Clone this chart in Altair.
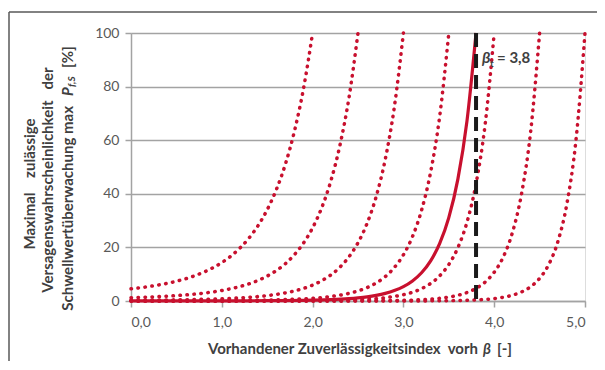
import altair as alt
import pandas as pd

# ---- data (beta -> max P_f,S in %) ----
B_20 = [0.0, 0.1, 0.2, 0.3, 0.4, 0.5, 0.6, 0.7, 0.8, 0.9, 1.0, 1.1, 1.2, 1.3, 1.4, 1.5, 1.6, 1.7, 1.8, 1.9, 2.0]
P_20 = [4.55, 4.94, 5.41, 5.95, 6.60, 7.37, 8.29, 9.40, 10.74, 12.36, 14.34, 16.76, 19.77, 23.50, 28.16, 34.06, 41.51, 51.01, 63.37, 79.27, 100.0]

B_25 = [0.0, 0.1, 0.2, 0.3, 0.4, 0.5, 0.6, 0.7, 0.8, 0.9, 1.0, 1.1, 1.2, 1.3, 1.4, 1.5, 1.6, 1.7, 1.8, 1.9, 2.0, 2.1, 2.2, 2.3, 2.4, 2.5]
P_25 = [1.24, 1.35, 1.48, 1.63, 1.80, 2.01, 2.26, 2.57, 2.93, 3.37, 3.91, 4.58, 5.40, 6.42, 7.69, 9.30, 11.33, 13.92, 17.30, 21.64, 27.30, 34.77, 44.68, 57.93, 75.73, 100.0]

B_30 = [0.0, 0.5, 1.0, 1.2, 1.4, 1.5, 1.6, 1.7, 1.8, 1.9, 2.0, 2.1, 2.2, 2.3, 2.4, 2.5, 2.6, 2.7, 2.8, 2.9, 3.0]
P_30 = [0.27, 0.44, 0.85, 1.17, 1.67, 2.02, 2.46, 3.03, 3.76, 4.70, 5.93, 7.56, 9.71, 12.59, 16.46, 21.74, 28.96, 38.94, 52.83, 72.34, 100.0]

B_35 = [0.0, 1.0, 1.5, 1.8, 2.0, 2.2, 2.4, 2.5, 2.6, 2.7, 2.8, 2.9, 3.0, 3.1, 3.2, 3.3, 3.4, 3.5]
P_35 = [0.05, 0.15, 0.35, 0.65, 1.02, 1.67, 2.84, 3.75, 4.99, 6.71, 9.10, 12.47, 17.23, 24.04, 33.85, 48.12, 69.04, 100.0]

B_40 = [0.0, 1.0, 2.0, 2.5, 2.8, 3.0, 3.1, 3.2, 3.3, 3.4, 3.5, 3.6, 3.7, 3.8, 3.9, 4.0]
P_40 = [0.01, 0.02, 0.14, 0.51, 1.24, 2.35, 3.27, 4.61, 6.55, 9.40, 13.61, 19.90, 29.37, 43.77, 65.84, 100.0]

B_45 = [0.0, 2.0, 3.0, 3.2, 3.4, 3.5, 3.6, 3.7, 3.8, 3.9, 4.0, 4.1, 4.2, 4.3, 4.4, 4.5]
P_45 = [0.0, 0.01, 0.25, 0.49, 1.01, 1.46, 2.14, 3.15, 4.70, 7.06, 10.73, 16.44, 25.45, 39.79, 62.78, 100.0]

B_50 = [0.0, 3.0, 3.5, 3.8, 4.0, 4.1, 4.2, 4.3, 4.4, 4.5, 4.6, 4.7, 4.8, 4.9, 5.0]
P_50 = [0.0, 0.02, 0.12, 0.40, 0.91, 1.39, 2.15, 3.36, 5.30, 8.44, 13.58, 22.04, 36.14, 59.83, 100.0]

# solid curve (target beta_t = 3.8)
B_38 = [0.0, 1.0, 1.5, 2.0, 2.2, 2.4, 2.5, 2.6, 2.7, 2.8, 2.9, 3.0, 3.1, 3.2, 3.3, 3.4, 3.5, 3.6, 3.7, 3.8]
P_38 = [0.01, 0.05, 0.11, 0.32, 0.52, 0.88, 1.17, 1.55, 2.09, 2.83, 3.88, 5.36, 7.48, 10.53, 14.97, 21.48, 31.10, 45.47, 67.12, 100.0]

BETA_T = 3.8
X_TICKS = [0, 1, 2, 3, 4, 5]
Y_TICKS = [0, 20, 40, 60, 80, 100]

dotted_sets = [("2,0", B_20, P_20), ("2,5", B_25, P_25), ("3,0", B_30, P_30),
               ("3,5", B_35, P_35), ("4,0", B_40, P_40), ("4,5", B_45, P_45),
               ("5,0", B_50, P_50)]
rows = []
for name, bs, ps in dotted_sets:
    for b, p in zip(bs, ps):
        rows.append({"curve": name, "beta": b, "p": p})
dotted_df = pd.DataFrame(rows)
solid_df = pd.DataFrame({"beta": B_38, "p": P_38})
one = pd.DataFrame({"beta": [BETA_T], "p": [88.8]})

RED = "#c8102e"
GRID = "#a3a3a3"
TXT = "#404040"
TICKTXT = "#595959"
FONT = "Lato"
W, H = 454, 268
NB = "\u00a0"

x_enc = alt.X("beta:Q", scale=alt.Scale(domain=[0, 5], nice=False),
              axis=alt.Axis(values=X_TICKS, grid=False, title=None,
                            labelExpr="replace(format(datum.value, '.1f'), '.', ',')",
                            tickSize=6, labelPadding=8, domainColor=GRID, tickColor=GRID,
                            domainWidth=1.5, tickWidth=1.5, labelColor=TICKTXT,
                            labelFont=FONT, labelFontSize=14))
y_enc = alt.Y("p:Q", scale=alt.Scale(domain=[0, 100], nice=False),
              axis=alt.Axis(values=Y_TICKS, grid=True, gridColor=GRID, gridWidth=1.5,
                            title=None, tickSize=6, labelPadding=6, domainColor=GRID,
                            tickColor=GRID, domainWidth=1.5, tickWidth=1.5,
                            labelColor=TICKTXT, labelFont=FONT, labelFontSize=14))

dotted = alt.Chart(dotted_df).mark_line(
    color=RED, strokeWidth=3.5, strokeDash=[0.5, 6.5], strokeCap="round",
    interpolate="monotone").encode(x=x_enc, y=y_enc, detail="curve:N")

solid = alt.Chart(solid_df).mark_line(
    color=RED, strokeWidth=3.2, interpolate="monotone").encode(x="beta:Q", y="p:Q")

vline = alt.Chart(one).mark_rule(color="#1a1a1a", strokeWidth=4, strokeDash=[14, 7]).encode(
    x=alt.datum(BETA_T), y=alt.datum(100), y2=alt.datum(0))

lab_b = alt.Chart(one).mark_text(text="β", font=FONT, fontStyle="italic", fontWeight="bold",
                                 fontSize=16, color=TXT, align="left", baseline="alphabetic",
                                 dx=6).encode(x="beta:Q", y="p:Q")
lab_t = alt.Chart(one).mark_text(text="t", font=FONT, fontWeight="bold", fontSize=10,
                                 color=TXT, align="left", baseline="alphabetic",
                                 dx=14, dy=4).encode(x="beta:Q", y="p:Q")
lab_v = alt.Chart(one).mark_text(text="= 3,8", font=FONT, fontWeight="bold", fontSize=15,
                                 color=TXT, align="left", baseline="alphabetic",
                                 dx=21).encode(x="beta:Q", y="p:Q")

def txt(text, x, y, align="center", angle=0, size=15, style="normal", baseline="middle"):
    return alt.Chart(one).mark_text(text=text, font=FONT, fontWeight="bold", fontStyle=style,
                                    fontSize=size, color=TXT, align=align, angle=angle,
                                    baseline=baseline).encode(x=alt.value(x), y=alt.value(y))

ytitle = [
    txt("Maximal" + NB * 4 + "zulässige", -101, 151, angle=270),
    txt("Versagenswahrscheinlichkeit" + NB * 3 + "der", -83, 147, angle=270),
    txt("Schwellwertüberwachung max", -63, 73, align="right", angle=270),
    txt("P", -63, 63, align="left", angle=270, style="italic"),
    txt("f,S", -59, 54, align="left", angle=270, style="italic", size=10),
    txt("[%]", -63, 35, align="left", angle=270),
]
xtitle = [
    txt("Vorhandener Zuverlässigkeitsindex" + NB * 2 + "vorh", 347, 321, align="right", baseline="alphabetic"),
    txt("β", 352, 321, align="left", style="italic", baseline="alphabetic"),
    txt("[-]", 366, 321, align="left", baseline="alphabetic"),
]

border = [
    alt.Chart(one).mark_rule(color="#595959", strokeWidth=1.5).encode(
        x=alt.value(-122), y=alt.value(-21), y2=alt.value(H + 70)),
    alt.Chart(one).mark_rule(color="#595959", strokeWidth=1.5).encode(
        x=alt.value(-122), x2=alt.value(W + 20), y=alt.value(-21)),
]

chart = alt.layer(dotted, solid, vline, lab_b, lab_t, lab_v, *ytitle, *xtitle, *border).properties(
    width=W, height=H,
    autosize=alt.AutoSizeParams(type="none"),
    padding={"left": 123, "top": 25, "right": 12, "bottom": 60},
).configure_view(stroke=None).configure(background="white")

chart.save("out.html", embed_options={"renderer": "svg", "actions": False})
